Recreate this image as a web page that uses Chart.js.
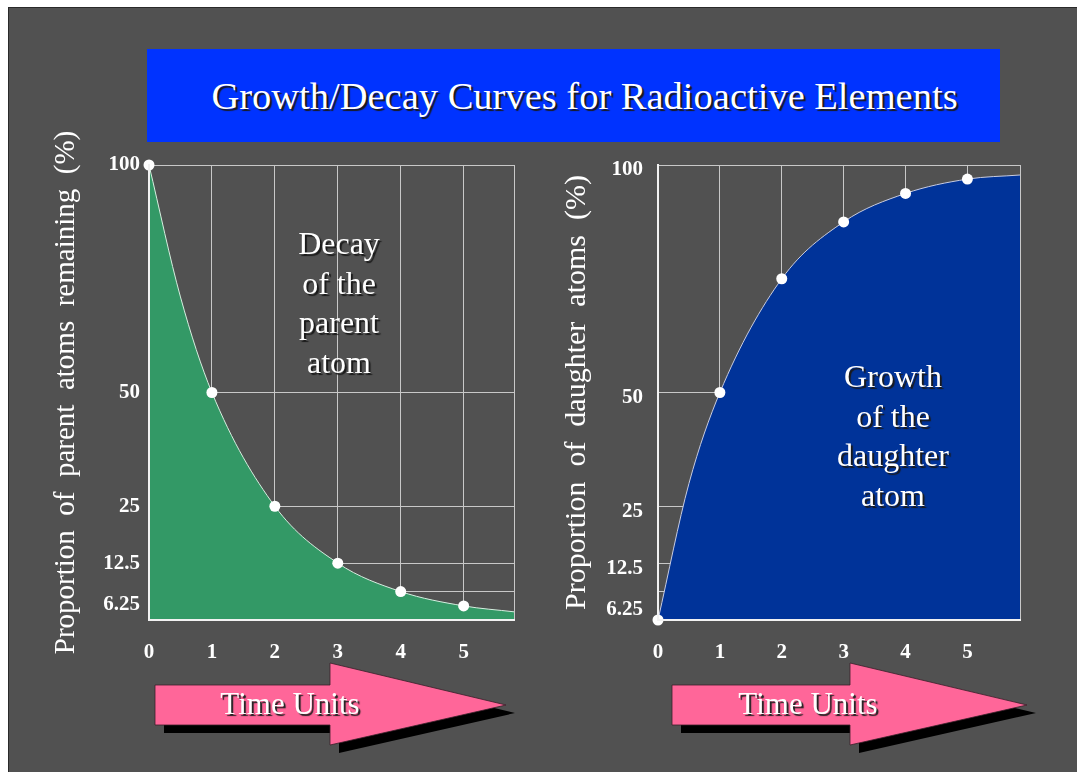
<!DOCTYPE html>
<html>
<head>
<meta charset="utf-8">
<script src="https://cdn.jsdelivr.net/npm/chart.js@4.4.1/dist/chart.umd.min.js"></script>
<style>
  html, body { margin: 0; padding: 0; width: 1077px; height: 772px; overflow: hidden; background: #fff;
               font-family: "Liberation Serif", "Times New Roman", serif; }
  #frame { position: absolute; left: 8px; top: 7px; width: 1069px; height: 765px; background: #515151;
           border-top: 1px solid #2a2a2a; border-left: 1px solid #2a2a2a; box-sizing: border-box; }
  #title { position: absolute; left: 147px; top: 49px; width: 853px; height: 93px; box-sizing: border-box;
           padding-left: 22px; background: #0033ff; color: #fff; font-size: 38.5px; line-height: 95px;
           text-align: center; text-shadow: 2px 2px 1px #1a1a1a; white-space: nowrap; }
  .chart-box { position: absolute; top: 100px; width: 490px; height: 580px; }
  #box-decay  { left: 40px; }
  #box-growth { left: 550px; }
  .note { position: absolute; width: 200px; color: #fff; font-size: 32px; line-height: 39.5px;
          text-align: center; text-shadow: 2px 2px 1px #1a1a1a; }
  #note-decay  { left: 239px; top: 224px; }
  #note-growth { left: 793px; top: 357px; }
  #arrows { position: absolute; left: 0; top: 0; }
  .arrow-text { position: absolute; top: 685px; width: 220px; color: #fff; font-size: 31px; line-height: 38px;
                text-align: center; text-shadow: 2px 2px 1px #222; }
</style>
</head>
<body>
<div id="frame"></div>
<div id="title">Growth/Decay Curves for Radioactive Elements</div>

<div class="chart-box" id="box-decay"><canvas id="chart-decay" width="494" height="580"></canvas></div>
<div class="chart-box" id="box-growth"><canvas id="chart-growth" width="490" height="580"></canvas></div>

<div class="note" id="note-decay">Decay<br>of the<br>parent<br>atom</div>
<div class="note" id="note-growth">Growth<br>of the<br>daughter<br>atom</div>

<svg id="arrows" width="1077" height="772">
  <g id="arrow-left"></g>
  <g id="arrow-right"></g>
</svg>
<div class="arrow-text" style="left:180px">Time Units</div>
<div class="arrow-text" style="left:698px">Time Units</div>

<script>
// ── Datos ────────────────────────────────────────────────────────
const TIME_DECAY   = [0, 0.5, 1, 2, 3, 4, 5, 5.8];
const PARENT_PCT   = [100, 71, 50, 25, 12.5, 6.25, 3.1, 1.8];
const TIME_GROWTH  = [0, 0.5, 1, 2, 3, 4, 5, 5.85];
const DAUGHTER_PCT = [0, 30, 50, 75, 87.5, 93.75, 96.9, 97.8];
const X_TICKS = [0, 1, 2, 3, 4, 5];
const Y_TICKS = [6.25, 12.5, 25, 50, 100];
const Y_TITLE_DECAY  = "Proportion  of  parent  atoms  remaining  (%)";
const Y_TITLE_GROWTH = "Proportion  of  daughter  atoms  (%)";

const SERIF = "'Liberation Serif', 'Times New Roman', serif";
const GRID  = "#c8c8c8";

// ── Flechas "Time Units" ─────────────────────────────────────────
function arrowPoints(x0, xh, xt, dx, dy) {
  const p = [[x0,685],[xh,685],[xh,663],[xt,705],[xh,745],[xh,725],[x0,725]];
  return p.map(([x, y]) => `${x + dx},${y + dy}`).join(" ");
}
function drawArrow(id, x0, xh, xt) {
  document.getElementById(id).innerHTML = `
    <polygon points="${arrowPoints(x0, xh, xt, 9, 8)}" fill="#000"/>
    <polygon points="${arrowPoints(x0, xh, xt, 0, 0)}" fill="#ff6699" stroke="#3a1f2a" stroke-width="0.8"/>`;
}
drawArrow("arrow-left", 155, 330, 506);
drawArrow("arrow-right", 672, 850, 1027);

// ── Opciones comunes ─────────────────────────────────────────────
function baseOpts(cfg) {
  return {
    responsive: false,
    animation: false,
    devicePixelRatio: 1,
    layout: { padding: { top: 65, right: cfg.rightPad, left: 0, bottom: 0 } },
    plugins: { legend: { display: false }, tooltip: { enabled: false } },
    scales: {
      x: {
        type: "linear", min: 0, max: cfg.xMax,
        afterBuildTicks: s => { s.ticks = [...X_TICKS, cfg.xMax].map(v => ({ value: v })); },
        afterFit: s => { s.height = 60; },
        ticks: {
          color: "#fff", padding: 20, maxRotation: 0,
          font: { family: SERIF, size: 21, weight: "bold" },
          callback: v => X_TICKS.includes(v) ? String(v) : ""
        },
        grid: { color: GRID, lineWidth: 1, drawTicks: false },
        border: { color: "#f2f2f2", width: 2, z: 1 }
      },
      y: {
        type: "linear", min: 0, max: 100,
        afterBuildTicks: s => { s.ticks = Y_TICKS.map(v => ({ value: v })); },
        afterFit: s => { s.width = cfg.yWidth; },
        ticks: {
          color: "#fff", padding: cfg.yPad, labelOffset: cfg.labelOffset,
          font: { family: SERIF, size: 21, weight: "bold" },
          // la etiqueta 6.25 va algo más abajo que su línea
          callback: v => v === 6.25 ? ["", "6.25"] : String(v)
        },
        grid: { color: GRID, lineWidth: 1, drawTicks: false },
        border: { color: "#f2f2f2", width: 2, z: 1 },
        title: {
          display: true, text: cfg.yTitle, color: "#fff",
          font: { family: SERIF, size: cfg.titleSize }, padding: { top: 9, bottom: 0 }
        }
      }
    }
  };
}

function serie(xs, ys, fillColor, lineColor) {
  return {
    data: xs.map((x, i) => ({ x, y: ys[i] })),
    borderColor: lineColor,
    borderWidth: 1,
    backgroundColor: fillColor,
    fill: "origin",
    cubicInterpolationMode: "monotone",
    pointRadius: xs.map(x => X_TICKS.includes(x) ? 5.5 : 0),
    pointBackgroundColor: "#fff",
    pointBorderColor: "#fff",
    pointBorderWidth: 0,
    clip: false
  };
}

// ── Decaimiento del padre ────────────────────────────────────────
new Chart(document.getElementById("chart-decay"), {
  type: "line",
  data: { datasets: [serie(TIME_DECAY, PARENT_PCT, "#339966", "#d6efe0")] },
  options: baseOpts({ xMax: 5.8, yTitle: Y_TITLE_DECAY, titleSize: 29, yWidth: 109, yPad: 9, labelOffset: 0, rightPad: 16 })
});

// ── Crecimiento de la hija ───────────────────────────────────────
new Chart(document.getElementById("chart-growth"), {
  type: "line",
  data: { datasets: [serie(TIME_GROWTH, DAUGHTER_PCT, "#003399", "#c8cce0")] },
  options: baseOpts({ xMax: 5.85, yTitle: Y_TITLE_GROWTH, titleSize: 30, yWidth: 108, yPad: 15, labelOffset: 5, rightPad: 20 })
});
</script>
</body>
</html>
